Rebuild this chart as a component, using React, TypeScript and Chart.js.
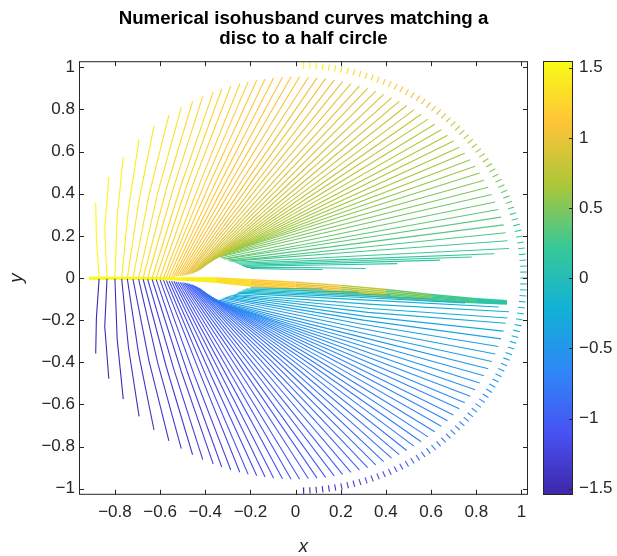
import React, { useEffect, useRef } from 'react';
import { Chart, registerables } from 'chart.js';

Chart.register(...registerables);

const titleLines = ['Numerical isohusband curves matching a', 'disc to a half circle'];
const xLabel = 'x';
const yLabel = 'y';

const xTicks = [-0.8, -0.6, -0.4, -0.2, 0, 0.2, 0.4, 0.6, 0.8, 1];
const yTicks = [-1, -0.8, -0.6, -0.4, -0.2, 0, 0.2, 0.4, 0.6, 0.8, 1];
const cbTicks = [-1.5, -1, -0.5, 0, 0.5, 1, 1.5];
const xMin = -0.959, xMax = 1.029, yMin = -1.029, yMax = 1.029;
const cbMin = -1.543, cbMax = 1.546;

// upper half curves (value, start, kink, end)
const upperValue = [1.53, 1.49, 1.46, 1.43, 1.40, 1.37, 1.345, 1.32, 1.295, 1.27,
  1.25, 1.23, 1.21, 1.19, 1.17, 1.15, 1.13, 1.11, 1.09, 1.07,
  1.05, 1.03, 1.01, 0.99, 0.97, 0.95, 0.93, 0.91, 0.89, 0.87,
  0.85, 0.83, 0.81, 0.79, 0.77, 0.75, 0.73, 0.71, 0.69, 0.67,
  0.65, 0.62, 0.60, 0.57, 0.54, 0.51, 0.48, 0.45, 0.42, 0.39,
  0.36, 0.33, 0.30, 0.27, 0.24, 0.21, 0.18, 0.15, 0.12, 0.09, 0.06];
const upperStartX = [-0.87, -0.835, -0.80, -0.77, -0.745, -0.72, -0.695, -0.675, -0.655, -0.635,
  -0.617, -0.60, -0.585, -0.572, -0.56, -0.549, -0.539, -0.53, -0.521, -0.512,
  -0.504, -0.496, -0.488, -0.481, -0.474, -0.467, -0.46, -0.454, -0.448, -0.442,
  -0.436, -0.43, -0.425, -0.42, -0.415, -0.41, -0.405, -0.40, -0.395, -0.39,
  -0.385, -0.38, -0.375, -0.37, -0.365, -0.36, -0.35, -0.34, -0.33, -0.32,
  -0.31, -0.30, -0.29, -0.28, -0.27, -0.26, -0.25, -0.24, -0.23, -0.22, -0.20];
const upperStartY = [0, 0, 0, 0, 0, 0, 0, 0, 0, 0,
  0, 0, 0, 0.003, 0.005, 0.005, 0.006, 0.008, 0.009, 0.01,
  0.011, 0.012, 0.013, 0.015, 0.017, 0.019, 0.021, 0.024, 0.027, 0.03,
  0.033, 0.037, 0.041, 0.045, 0.05, 0.055, 0.06, 0.065, 0.07, 0.075,
  0.08, 0.085, 0.09, 0.095, 0.1, 0.1, 0.1, 0.1, 0.095, 0.09,
  0.09, 0.085, 0.08, 0.08, 0.075, 0.07, 0.065, 0.06, 0.055, 0.05, 0.045];
const upperMidX = [-0.882, -0.845, -0.79, -0.74, -0.695, -0.65, -0.61, -0.573, -0.54, -0.507,
  -0.478, -0.45, -0.42, -0.395, -0.37, -0.345, -0.321, -0.297, -0.273, -0.25,
  -0.226, -0.203, -0.18, -0.157, -0.135, -0.113, -0.09, -0.069, -0.047, -0.026,
  -0.006, 0.015, 0.034, 0.052, 0.071, 0.088, 0.106, 0.123, 0.139, 0.155,
  0.17, 0.185, 0.199, 0.213, 0.225, 0.237, 0.252, 0.265, 0.277, 0.289,
  0.30, 0.31, 0.32, 0.329, 0.338, 0.31, 0.27, 0.20, 0.11, 0.045, -0.04];
const upperMidY = [0.19, 0.23, 0.29, 0.33, 0.36, 0.39, 0.405, 0.42, 0.43, 0.44,
  0.45, 0.456, 0.461, 0.468, 0.472, 0.475, 0.478, 0.48, 0.482, 0.483,
  0.482, 0.481, 0.48, 0.477, 0.475, 0.471, 0.467, 0.462, 0.457, 0.451,
  0.444, 0.438, 0.43, 0.422, 0.414, 0.405, 0.395, 0.385, 0.374, 0.363,
  0.351, 0.339, 0.326, 0.313, 0.299, 0.282, 0.266, 0.248, 0.228, 0.208,
  0.19, 0.169, 0.148, 0.129, 0.108, 0.092, 0.082, 0.072, 0.062, 0.05, 0.042];
const upperEndX = [-0.885, -0.827, -0.763, -0.693, -0.627, -0.561, -0.506, -0.456, -0.411, -0.365,
  -0.327, -0.287, -0.247, -0.21, -0.172, -0.135, -0.097, -0.058, -0.02, 0.018,
  0.057, 0.095, 0.133, 0.171, 0.208, 0.245, 0.283, 0.319, 0.355, 0.39,
  0.425, 0.459, 0.492, 0.524, 0.556, 0.586, 0.616, 0.645, 0.673, 0.699,
  0.725, 0.749, 0.773, 0.795, 0.815, 0.834, 0.853, 0.869, 0.884, 0.898,
  0.91, 0.921, 0.93, 0.938, 0.945, 0.88, 0.78, 0.64, 0.45, 0.31, 0.12];
const upperEndY = [0.358, 0.478, 0.575, 0.657, 0.721, 0.773, 0.81, 0.839, 0.862, 0.882,
  0.897, 0.911, 0.922, 0.932, 0.939, 0.945, 0.95, 0.953, 0.955, 0.955,
  0.953, 0.95, 0.946, 0.939, 0.932, 0.923, 0.912, 0.9, 0.887, 0.872,
  0.855, 0.838, 0.819, 0.798, 0.777, 0.754, 0.73, 0.704, 0.678, 0.65,
  0.621, 0.592, 0.561, 0.53, 0.498, 0.464, 0.431, 0.396, 0.361, 0.325,
  0.289, 0.252, 0.215, 0.177, 0.14, 0.115, 0.10, 0.085, 0.068, 0.045, 0.04];

// lower half curves
const lowerValue = [-1.53, -1.49, -1.46, -1.43, -1.40, -1.37, -1.345, -1.32, -1.295, -1.27,
  -1.25, -1.23, -1.21, -1.19, -1.17, -1.15, -1.13, -1.11, -1.09, -1.07,
  -1.05, -1.03, -1.01, -0.99, -0.97, -0.95, -0.93, -0.91, -0.89, -0.87,
  -0.85, -0.83, -0.81, -0.79, -0.77, -0.75, -0.73, -0.71, -0.69, -0.67,
  -0.65, -0.62, -0.60, -0.57, -0.54, -0.51, -0.48, -0.45, -0.42, -0.39,
  -0.36, -0.33, -0.30, -0.27, -0.24, -0.21, -0.18, -0.15, -0.12, -0.09, -0.06];
const lowerStartX = [-0.87, -0.835, -0.80, -0.77, -0.745, -0.72, -0.695, -0.675, -0.655, -0.635,
  -0.617, -0.60, -0.585, -0.572, -0.56, -0.549, -0.539, -0.53, -0.521, -0.512,
  -0.504, -0.496, -0.488, -0.481, -0.474, -0.467, -0.46, -0.454, -0.448, -0.442,
  -0.436, -0.43, -0.425, -0.42, -0.415, -0.41, -0.405, -0.40, -0.395, -0.39,
  -0.385, -0.38, -0.375, -0.37, -0.365, -0.36, -0.35, -0.34, -0.33, -0.32,
  -0.31, -0.30, -0.29, -0.28, -0.27, -0.26, -0.25, -0.24, -0.23, -0.22, -0.20];
const lowerStartY = [-0.004, -0.004, -0.004, -0.004, -0.004, -0.005, -0.005, -0.006, -0.006, -0.007,
  -0.008, -0.009, -0.01, -0.012, -0.014, -0.015, -0.016, -0.018, -0.019, -0.02,
  -0.021, -0.022, -0.023, -0.025, -0.027, -0.029, -0.031, -0.034, -0.037, -0.04,
  -0.043, -0.047, -0.051, -0.055, -0.06, -0.065, -0.07, -0.075, -0.08, -0.085,
  -0.09, -0.095, -0.1, -0.105, -0.108, -0.108, -0.108, -0.105, -0.1, -0.095,
  -0.092, -0.088, -0.084, -0.082, -0.078, -0.072, -0.067, -0.062, -0.057, -0.052, -0.047];
const lowerMidX = [-0.882, -0.845, -0.79, -0.74, -0.695, -0.65, -0.61, -0.573, -0.54, -0.507,
  -0.478, -0.45, -0.42, -0.395, -0.37, -0.345, -0.321, -0.297, -0.273, -0.25,
  -0.226, -0.203, -0.18, -0.157, -0.135, -0.113, -0.09, -0.069, -0.047, -0.026,
  -0.006, 0.015, 0.034, 0.052, 0.071, 0.088, 0.106, 0.123, 0.139, 0.155,
  0.17, 0.185, 0.199, 0.213, 0.225, 0.237, 0.252, 0.265, 0.277, 0.289,
  0.30, 0.31, 0.32, 0.329, 0.338, 0.32, 0.25, 0.18, 0.10, 0.03, -0.04];
const lowerMidY = [-0.19, -0.23, -0.29, -0.33, -0.36, -0.39, -0.405, -0.42, -0.43, -0.44,
  -0.45, -0.456, -0.461, -0.468, -0.472, -0.475, -0.478, -0.48, -0.482, -0.483,
  -0.482, -0.481, -0.48, -0.477, -0.475, -0.471, -0.467, -0.462, -0.457, -0.451,
  -0.444, -0.438, -0.43, -0.422, -0.414, -0.405, -0.395, -0.385, -0.374, -0.363,
  -0.351, -0.339, -0.326, -0.313, -0.299, -0.285, -0.27, -0.254, -0.236, -0.218,
  -0.2, -0.182, -0.163, -0.145, -0.125, -0.105, -0.09, -0.08, -0.07, -0.06, -0.05];
const lowerEndX = [-0.885, -0.827, -0.763, -0.693, -0.627, -0.561, -0.506, -0.456, -0.411, -0.365,
  -0.327, -0.287, -0.247, -0.21, -0.172, -0.135, -0.097, -0.058, -0.02, 0.018,
  0.057, 0.095, 0.133, 0.171, 0.208, 0.245, 0.283, 0.319, 0.355, 0.39,
  0.425, 0.459, 0.492, 0.524, 0.556, 0.586, 0.616, 0.645, 0.673, 0.699,
  0.725, 0.749, 0.773, 0.795, 0.815, 0.834, 0.853, 0.869, 0.884, 0.898,
  0.91, 0.921, 0.93, 0.938, 0.945, 0.9, 0.75, 0.6, 0.42, 0.28, 0.12];
const lowerEndY = [-0.358, -0.478, -0.575, -0.657, -0.721, -0.773, -0.81, -0.839, -0.862, -0.882,
  -0.897, -0.911, -0.922, -0.932, -0.939, -0.945, -0.95, -0.953, -0.955, -0.955,
  -0.953, -0.95, -0.946, -0.939, -0.932, -0.923, -0.912, -0.9, -0.887, -0.872,
  -0.855, -0.838, -0.819, -0.798, -0.777, -0.754, -0.73, -0.704, -0.678, -0.65,
  -0.621, -0.592, -0.561, -0.53, -0.498, -0.464, -0.431, -0.396, -0.361, -0.325,
  -0.289, -0.252, -0.215, -0.19, -0.16, -0.138, -0.118, -0.1, -0.082, -0.068, -0.052];

// dense central band
const bandX = [-0.915, -0.7, -0.5, -0.35, -0.2, 0.0, 0.2, 0.4, 0.6, 0.8, 0.935];
const bandValue = [1.54, 1.52, 1.45, 1.3, 1.15, 1.0, 0.75, 0.45, 0.25, 0.12, 0.06];
const bandY1 = [0.002, 0.002, 0.0, 0.0, -0.008, -0.02, -0.035, -0.055, -0.078, -0.098, -0.108];
const bandY2 = [0.0, 0.0, -0.002, -0.004, -0.014, -0.028, -0.044, -0.063, -0.084, -0.102, -0.111];
const bandY3 = [-0.001, -0.001, -0.004, -0.008, -0.02, -0.035, -0.052, -0.071, -0.09, -0.106, -0.114];
const bandY4 = [-0.002, -0.002, -0.006, -0.012, -0.026, -0.042, -0.06, -0.078, -0.096, -0.11, -0.117];
const bandY5 = [-0.003, -0.003, -0.008, -0.016, -0.032, -0.05, -0.067, -0.085, -0.102, -0.114, -0.12];
const bandY6 = [-0.004, -0.004, -0.01, -0.02, -0.038, -0.057, -0.074, -0.091, -0.107, -0.118, -0.123];

// boundary dashes (angles in degrees)
const dashAnglesNorth = [88, 86.4, 84.8, 83.2, 81.6, 80, 78.4, 76.8, 75.2, 73.6, 72, 70.4, 68.8, 67.2, 65.6,
  64, 62.4, 60.8, 59.2, 57.6, 56, 54.4, 52.8, 51.2, 49.6, 48, 46.4, 44.8, 43.2, 41.6, 40, 38.4, 36.8,
  35.2, 33.6, 32, 30.4, 28.8, 27.2, 25.6, 24, 22.4, 20.8, 19.2, 17.6, 16, 14.4, 12.8, 11.2, 9.6, 8,
  6.4, 4.8, 3.2, 1.6, 0];
const dashAnglesSouth = [-1.6, -3.2, -4.8, -6.4, -8, -9.6, -11.2, -12.8, -14.4, -16, -17.6, -19.2, -20.8,
  -22.4, -24, -25.6, -27.2, -28.8, -30.4, -32, -33.6, -35.2, -36.8, -38.4, -40, -41.6, -43.2, -44.8,
  -46.4, -48, -49.6, -51.2, -52.8, -54.4, -56, -57.6, -59.2, -60.8, -62.4, -64, -65.6, -67.2, -68.8,
  -70.4, -72, -73.6, -75.2, -76.8, -78.4, -80, -81.6, -83.2, -84.8, -86.4, -88];
const dashInner = 0.995;
const dashOuter = 1.025;

const parulaStops = [
  [0.0, 62, 38, 168], [0.143, 72, 82, 244], [0.286, 46, 135, 247], [0.429, 18, 177, 214],
  [0.571, 55, 200, 151], [0.714, 171, 199, 57], [0.857, 254, 195, 56], [1.0, 249, 251, 21],
];

function cmap(v: number): string {
  let t = (v - cbMin) / (cbMax - cbMin);
  t = Math.max(0, Math.min(1, t));
  for (let i = 1; i < parulaStops.length; i++) {
    const a = parulaStops[i - 1], b = parulaStops[i];
    if (t <= b[0]) {
      const f = (t - a[0]) / (b[0] - a[0]);
      const r = Math.round(a[1] + (b[1] - a[1]) * f);
      const g = Math.round(a[2] + (b[2] - a[2]) * f);
      const bl = Math.round(a[3] + (b[3] - a[3]) * f);
      return `rgb(${r},${g},${bl})`;
    }
  }
  return 'rgb(249,251,21)';
}

const FONT = "'Liberation Sans', Arial, Helvetica, sans-serif";
const AXIS_COLOR = '#262626';

function fmt(v: number): string {
  return String(v).replace('-', '\u2212');
}

function curveSet(vals: number[], sx: number[], sy: number[], mx: number[], my: number[], ex: number[], ey: number[]) {
  return vals.map((v, i) => ({
    data: [{ x: sx[i], y: sy[i] }, { x: mx[i], y: my[i] }, { x: ex[i], y: ey[i] }],
    borderColor: cmap(v),
    borderWidth: 1.1,
    showLine: true,
    pointRadius: 0,
    fill: false,
  }));
}

const decorPlugin = {
  id: 'decor',
  afterDraw(chart: any) {
    const { ctx, chartArea: ca, scales } = chart;
    ctx.save();
    // title
    ctx.fillStyle = '#000';
    ctx.font = `bold 18.7px ${FONT}`;
    ctx.textAlign = 'center';
    ctx.textBaseline = 'alphabetic';
    const cx = (ca.left + ca.right) / 2;
    ctx.fillText(titleLines[0], cx, 24);
    ctx.fillText(titleLines[1], cx, 44);
    // axis labels
    ctx.fillStyle = AXIS_COLOR;
    ctx.font = `italic 18.7px ${FONT}`;
    ctx.fillText(xLabel, cx, 552);
    ctx.save();
    ctx.translate(22, (ca.top + ca.bottom) / 2);
    ctx.rotate(-Math.PI / 2);
    ctx.fillText(yLabel, 0, 0);
    ctx.restore();
    // box
    ctx.strokeStyle = AXIS_COLOR;
    ctx.lineWidth = 1;
    ctx.strokeRect(ca.left + 0.5, ca.top + 0.5, ca.right - ca.left - 1, ca.bottom - ca.top - 1);
    const tl = 5;
    ctx.beginPath();
    xTicks.forEach((v) => {
      const px = Math.round(scales.x.getPixelForValue(v)) + 0.5;
      ctx.moveTo(px, ca.bottom); ctx.lineTo(px, ca.bottom - tl);
      ctx.moveTo(px, ca.top); ctx.lineTo(px, ca.top + tl);
    });
    yTicks.forEach((v) => {
      const py = Math.round(scales.y.getPixelForValue(v)) + 0.5;
      ctx.moveTo(ca.left, py); ctx.lineTo(ca.left + tl, py);
      ctx.moveTo(ca.right, py); ctx.lineTo(ca.right - tl, py);
    });
    ctx.stroke();
    // colorbar
    const cb = scales.cb;
    const top = Math.round(cb.getPixelForValue(cbMax));
    const bottom = Math.round(cb.getPixelForValue(cbMin));
    const x0 = ca.right + 15;
    const w = 30;
    for (let y = top; y < bottom; y++) {
      ctx.fillStyle = cmap(cb.getValueForPixel(y + 0.5));
      ctx.fillRect(x0, y, w, 1);
    }
    ctx.strokeStyle = AXIS_COLOR;
    ctx.strokeRect(x0 + 0.5, top + 0.5, w - 1, bottom - top - 1);
    ctx.beginPath();
    cbTicks.forEach((v) => {
      const py = Math.round(cb.getPixelForValue(v)) + 0.5;
      ctx.moveTo(x0 + w, py); ctx.lineTo(x0 + w - 4, py);
    });
    ctx.stroke();
    ctx.restore();
  },
};

export default function App() {
  const ref = useRef<HTMLCanvasElement | null>(null);
  useEffect(() => {
    document.body.style.margin = '0';
    const canvas = ref.current;
    if (!canvas) return;
    const datasets: any[] = [];
    datasets.push(...curveSet(upperValue, upperStartX, upperStartY, upperMidX, upperMidY, upperEndX, upperEndY));
    datasets.push(...curveSet(lowerValue, lowerStartX, lowerStartY, lowerMidX, lowerMidY, lowerEndX, lowerEndY));
    [bandY1, bandY2, bandY3, bandY4, bandY5, bandY6].forEach((ys) => {
      datasets.push({
        data: bandX.map((x, i) => ({ x, y: ys[i] })),
        borderColor: cmap(bandValue[0]),
        segment: { borderColor: (c: any) => cmap(bandValue[c.p0DataIndex]) },
        borderWidth: 1.5,
        showLine: true,
        pointRadius: 0,
        fill: false,
      });
    });
    [...dashAnglesNorth, ...dashAnglesSouth].forEach((deg) => {
      const a = (deg * Math.PI) / 180;
      datasets.push({
        data: [
          { x: dashInner * Math.cos(a), y: dashInner * Math.sin(a) },
          { x: dashOuter * Math.cos(a), y: dashOuter * Math.sin(a) },
        ],
        borderColor: cmap(a),
        borderWidth: 1.1,
        showLine: true,
        pointRadius: 0,
        fill: false,
      });
    });

    const tickFont = { family: FONT, size: 17 };
    const chart = new Chart(canvas, {
      type: 'scatter',
      data: { datasets },
      options: {
        responsive: false,
        animation: false,
        events: [],
        layout: { padding: { left: 0, right: 0, top: 54, bottom: 0 } },
        plugins: { legend: { display: false }, tooltip: { enabled: false }, title: { display: false } },
        scales: {
          x: {
            type: 'linear', position: 'bottom', min: xMin, max: xMax,
            grid: { display: false, drawTicks: false }, border: { display: false },
            ticks: { font: tickFont, color: AXIS_COLOR, padding: 7, maxRotation: 0, autoSkip: false, callback: (v: any) => fmt(Number(v)) },
            afterBuildTicks: (s: any) => { s.ticks = xTicks.map((v) => ({ value: v })); },
            afterFit: (s: any) => { s.height = 48; },
          },
          y: {
            type: 'linear', position: 'left', min: yMin, max: yMax,
            grid: { display: false, drawTicks: false }, border: { display: false },
            ticks: { font: tickFont, color: AXIS_COLOR, padding: 4, autoSkip: false, callback: (v: any) => fmt(Number(v)) },
            afterBuildTicks: (s: any) => { s.ticks = yTicks.map((v) => ({ value: v })); },
            afterFit: (s: any) => { s.width = 79; },
          },
          cb: {
            type: 'linear', position: 'right', min: cbMin, max: cbMax,
            grid: { display: false, drawTicks: false }, border: { display: false },
            ticks: { font: tickFont, color: AXIS_COLOR, padding: 51, autoSkip: false, callback: (v: any) => fmt(Number(v)) },
            afterBuildTicks: (s: any) => { s.ticks = cbTicks.map((v) => ({ value: v })); },
            afterFit: (s: any) => { s.width = 89; },
          },
        },
      } as any,
      plugins: [decorPlugin],
    });
    return () => chart.destroy();
  }, []);
  return (
    <div style={{ position: 'fixed', left: 0, top: 0, width: 617, height: 556, background: '#fff' }}>
      <canvas ref={ref} width={617} height={556} style={{ width: 617, height: 556, display: 'block' }} />
    </div>
  );
}
